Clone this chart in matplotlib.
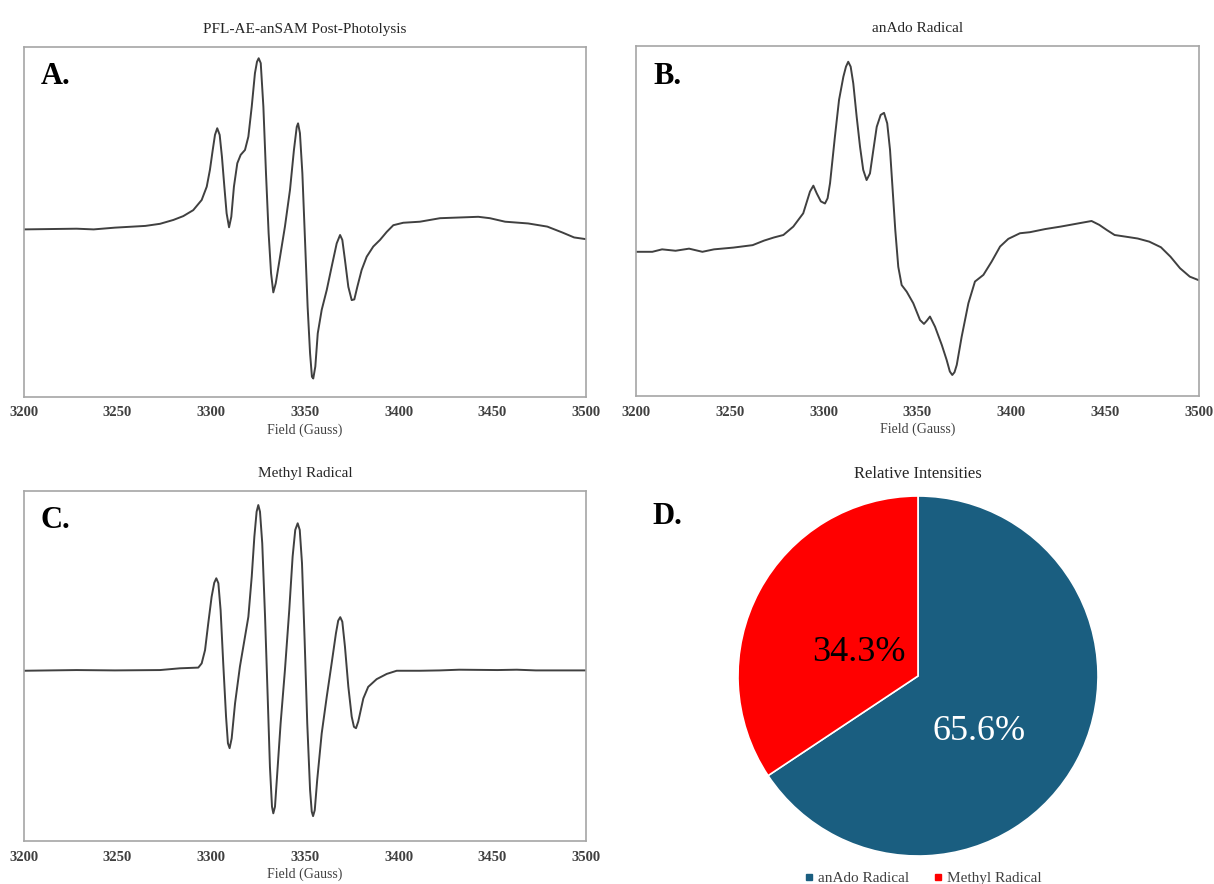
import matplotlib
matplotlib.use("Agg")
import matplotlib.pyplot as plt
from matplotlib.lines import Line2D

plt.rcParams['font.family'] = ['Liberation Serif', 'DejaVu Serif']

# EPR spectra, field in Gauss, signal in arbitrary units (0-100 window)
field_a = [3200.0, 3228.2, 3237.3, 3248.6, 3264.9, 3272.7, 3279.8, 3285.1, 3290.4, 3294.9,
           3297.6, 3299.3, 3300.8, 3302.0, 3303.2, 3304.5, 3305.7, 3307.0, 3308.2, 3309.5,
           3310.7, 3312.1, 3313.9, 3315.7, 3318.0, 3319.8, 3321.6, 3323.3, 3324.4, 3325.3,
           3326.4, 3327.8, 3329.2, 3330.6, 3331.9, 3333.1, 3334.4, 3336.7, 3339.3, 3342.0,
           3344.1, 3345.6, 3346.3, 3347.3, 3348.6, 3350.0, 3351.4, 3352.7, 3353.7, 3354.4,
           3355.5, 3356.8, 3358.9, 3361.6, 3364.2, 3366.9, 3368.7, 3369.9, 3371.3, 3373.1,
           3374.9, 3376.3, 3377.9, 3380.2, 3382.9, 3386.4, 3390.0, 3393.6, 3397.1, 3402.4,
           3411.3, 3422.0, 3432.2, 3442.4, 3448.6, 3456.7, 3469.0, 3479.2, 3487.3, 3493.5,
           3500.0]
signal_a = [47.8, 48.0, 47.8, 48.3, 48.8, 49.4, 50.5, 51.6, 53.3, 56.2,
            60.0, 64.8, 70.5, 74.8, 76.7, 74.8, 68.6, 60.0, 52.4, 48.4,
            51.4, 60.0, 66.7, 69.1, 70.5, 74.3, 82.9, 92.4, 95.7, 96.7,
            95.3, 82.9, 63.8, 46.7, 35.3, 29.8, 32.4, 40.0, 48.6, 59.1,
            70.5, 77.1, 78.1, 75.3, 63.8, 44.8, 25.7, 12.4, 5.7, 5.2,
            8.6, 18.1, 24.8, 30.5, 37.1, 43.8, 46.2, 44.8, 39.1, 31.4,
            27.6, 27.8, 31.4, 36.2, 40.0, 42.9, 44.8, 47.1, 49.0, 49.7,
            50.0, 51.0, 51.2, 51.4, 51.0, 50.0, 49.5, 48.6, 46.9, 45.5,
            45.0]

field_b = [3200.0, 3208.6, 3213.8, 3221.0, 3228.2, 3235.3, 3241.5, 3251.8, 3262.1, 3268.2,
           3273.5, 3278.5, 3283.8, 3289.1, 3292.7, 3294.5, 3296.3, 3298.5, 3300.7, 3302.1,
           3303.4, 3306.0, 3308.2, 3310.5, 3311.9, 3313.1, 3314.4, 3315.8, 3317.6, 3319.4,
           3321.1, 3322.9, 3324.7, 3326.5, 3328.3, 3330.4, 3332.2, 3333.9, 3335.4, 3336.8,
           3338.2, 3339.8, 3341.6, 3344.3, 3347.8, 3351.4, 3353.5, 3355.0, 3356.7, 3359.4,
           3363.0, 3365.6, 3367.3, 3368.6, 3369.8, 3371.0, 3373.6, 3377.2, 3380.7, 3385.2,
           3389.6, 3394.1, 3398.5, 3404.7, 3410.0, 3418.2, 3426.4, 3432.6, 3437.7, 3442.9,
           3447.0, 3451.1, 3455.2, 3461.4, 3467.5, 3473.7, 3479.9, 3485.0, 3490.1, 3495.3,
           3500.0]
signal_b = [41.2, 41.2, 41.9, 41.5, 42.1, 41.2, 41.9, 42.4, 43.1, 44.4,
            45.3, 46.0, 48.4, 52.2, 58.4, 60.1, 57.9, 55.6, 55.0, 56.5,
            60.8, 74.1, 84.6, 91.2, 94.1, 95.5, 94.1, 89.3, 79.8, 71.2,
            64.6, 61.7, 63.6, 70.3, 76.9, 80.3, 80.9, 77.9, 70.3, 58.9,
            47.4, 36.9, 31.7, 29.8, 26.5, 21.7, 20.6, 21.5, 22.7, 19.8,
            14.6, 10.3, 7.0, 6.0, 6.8, 8.9, 16.9, 26.5, 32.7, 34.6,
            38.4, 42.7, 44.9, 46.5, 46.8, 47.7, 48.4, 49.0, 49.5, 50.0,
            48.9, 47.4, 46.0, 45.5, 45.0, 44.1, 42.5, 39.8, 36.5, 34.1,
            33.1]

field_c = [3200.0, 3228.2, 3248.6, 3272.7, 3283.3, 3293.1, 3294.9, 3296.7, 3298.4, 3300.2,
           3301.6, 3302.7, 3303.8, 3305.0, 3306.4, 3307.9, 3308.9, 3309.8, 3310.9, 3312.7,
           3315.3, 3318.0, 3319.8, 3321.6, 3323.0, 3324.2, 3325.1, 3326.0, 3327.2, 3328.7,
           3330.1, 3331.3, 3332.4, 3333.1, 3334.0, 3335.2, 3337.0, 3339.3, 3341.6, 3343.4,
           3344.8, 3346.1, 3347.2, 3348.4, 3349.8, 3351.2, 3352.7, 3353.6, 3354.3, 3355.2,
           3356.5, 3358.9, 3361.6, 3364.2, 3366.5, 3367.7, 3368.8, 3369.9, 3371.3, 3373.1,
           3374.9, 3376.1, 3377.2, 3378.4, 3381.1, 3383.7, 3388.2, 3393.6, 3398.9, 3411.3,
           3422.0, 3432.2, 3452.6, 3462.9, 3473.1, 3483.3, 3500.0]
signal_c = [48.6, 48.8, 48.7, 48.8, 49.3, 49.5, 50.7, 54.5, 62.1, 69.7,
            73.7, 75.0, 73.6, 65.9, 50.7, 35.5, 27.9, 26.5, 29.3, 39.3,
            49.8, 58.3, 64.0, 75.5, 86.9, 94.0, 95.9, 94.0, 85.0, 64.0,
            41.2, 21.2, 9.8, 7.9, 9.8, 19.3, 33.6, 48.8, 65.9, 81.2,
            88.8, 90.7, 88.8, 79.3, 57.4, 33.6, 14.6, 8.4, 7.1, 8.8,
            17.4, 30.7, 41.2, 50.7, 59.3, 62.9, 63.9, 62.6, 55.5, 44.1,
            35.5, 32.6, 32.2, 34.1, 40.7, 44.0, 46.2, 47.7, 48.6, 48.6,
            48.7, 48.9, 48.8, 48.9, 48.7, 48.7, 48.7]

# relative intensities from the simulation
species = ["anAdo Radical", "Methyl Radical"]
percent = [65.6, 34.3]
pie_colors = ["#1a5e80", "#ff0000"]

W, H = 1214, 884
fig = plt.figure(figsize=(W / 100, H / 100), dpi=100)

def px_box(left, top, right, bottom):
    return [left / W, 1 - bottom / H, (right - left) / W, (bottom - top) / H]

def spectrum(box, field, signal, title, letter):
    ax = fig.add_axes(px_box(*box))
    ax.plot(field, signal, color="#404040", lw=1.4, solid_joinstyle="round")
    ax.set_xlim(3200, 3500)
    ax.set_ylim(0, 100)
    ax.set_xticks([3200, 3250, 3300, 3350, 3400, 3450, 3500])
    ax.set_yticks([])
    ax.tick_params(axis="x", length=0, pad=7, labelsize=10.5, labelcolor="#404040")
    for lab in ax.get_xticklabels():
        lab.set_fontweight("bold")
    for s in ax.spines.values():
        s.set_color("#a6a6a6")
        s.set_linewidth(1.2)
    ax.set_xlabel("Field (Gauss)", fontsize=10, color="#404040", labelpad=3)
    ax.set_title(title, fontsize=11, color="#262626", pad=10)
    ax.text(0.03, 0.955, letter, transform=ax.transAxes, fontsize=22,
            fontweight="bold", va="top", ha="left")
    return ax

spectrum((23.7, 46.7, 586.3, 396.7), field_a, signal_a,
         "PFL-AE-anSAM Post-Photolysis", "A.")
spectrum((636.2, 46.0, 1198.6, 396.0), field_b, signal_b,
         "anAdo Radical", "B.")
spectrum((23.7, 490.7, 586.3, 841.0), field_c, signal_c,
         "Methyl Radical", "C.")

# panel D: pie of relative intensities
cx, cy, r = 918, 676, 180
axp = fig.add_axes(px_box(cx - r, cy - r, cx + r, cy + r))
axp.pie(percent, colors=pie_colors, startangle=90, counterclock=False,
        wedgeprops=dict(edgecolor="white", linewidth=1.2))
axp.set_xlim(-1, 1)
axp.set_ylim(-1, 1)
axp.set_aspect("equal")
axp.axis("off")
axp.text(0.34, -0.31, f"{percent[0]}%", color="white", fontsize=26,
         ha="center", va="center")
axp.text(-0.33, 0.13, f"{percent[1]}%", color="black", fontsize=26,
         ha="center", va="center")

fig.text(cx / W, 1 - 474 / H, "Relative Intensities", fontsize=12,
         color="#262626", ha="center", va="center")
fig.text(652 / W, 1 - 517 / H, "D.", fontsize=22, fontweight="bold",
         ha="left", va="center")

handles = [Line2D([], [], marker="s", ls="", color=c, markersize=5) for c in pie_colors]
fig.legend(handles, species, loc="center", bbox_to_anchor=(923 / W, 1 - 878 / H),
           ncol=2, frameon=False, fontsize=11, handlelength=0.6,
           handletextpad=0.3, columnspacing=1.6, labelcolor="#404040")

fig.savefig("out.png", dpi=100)
